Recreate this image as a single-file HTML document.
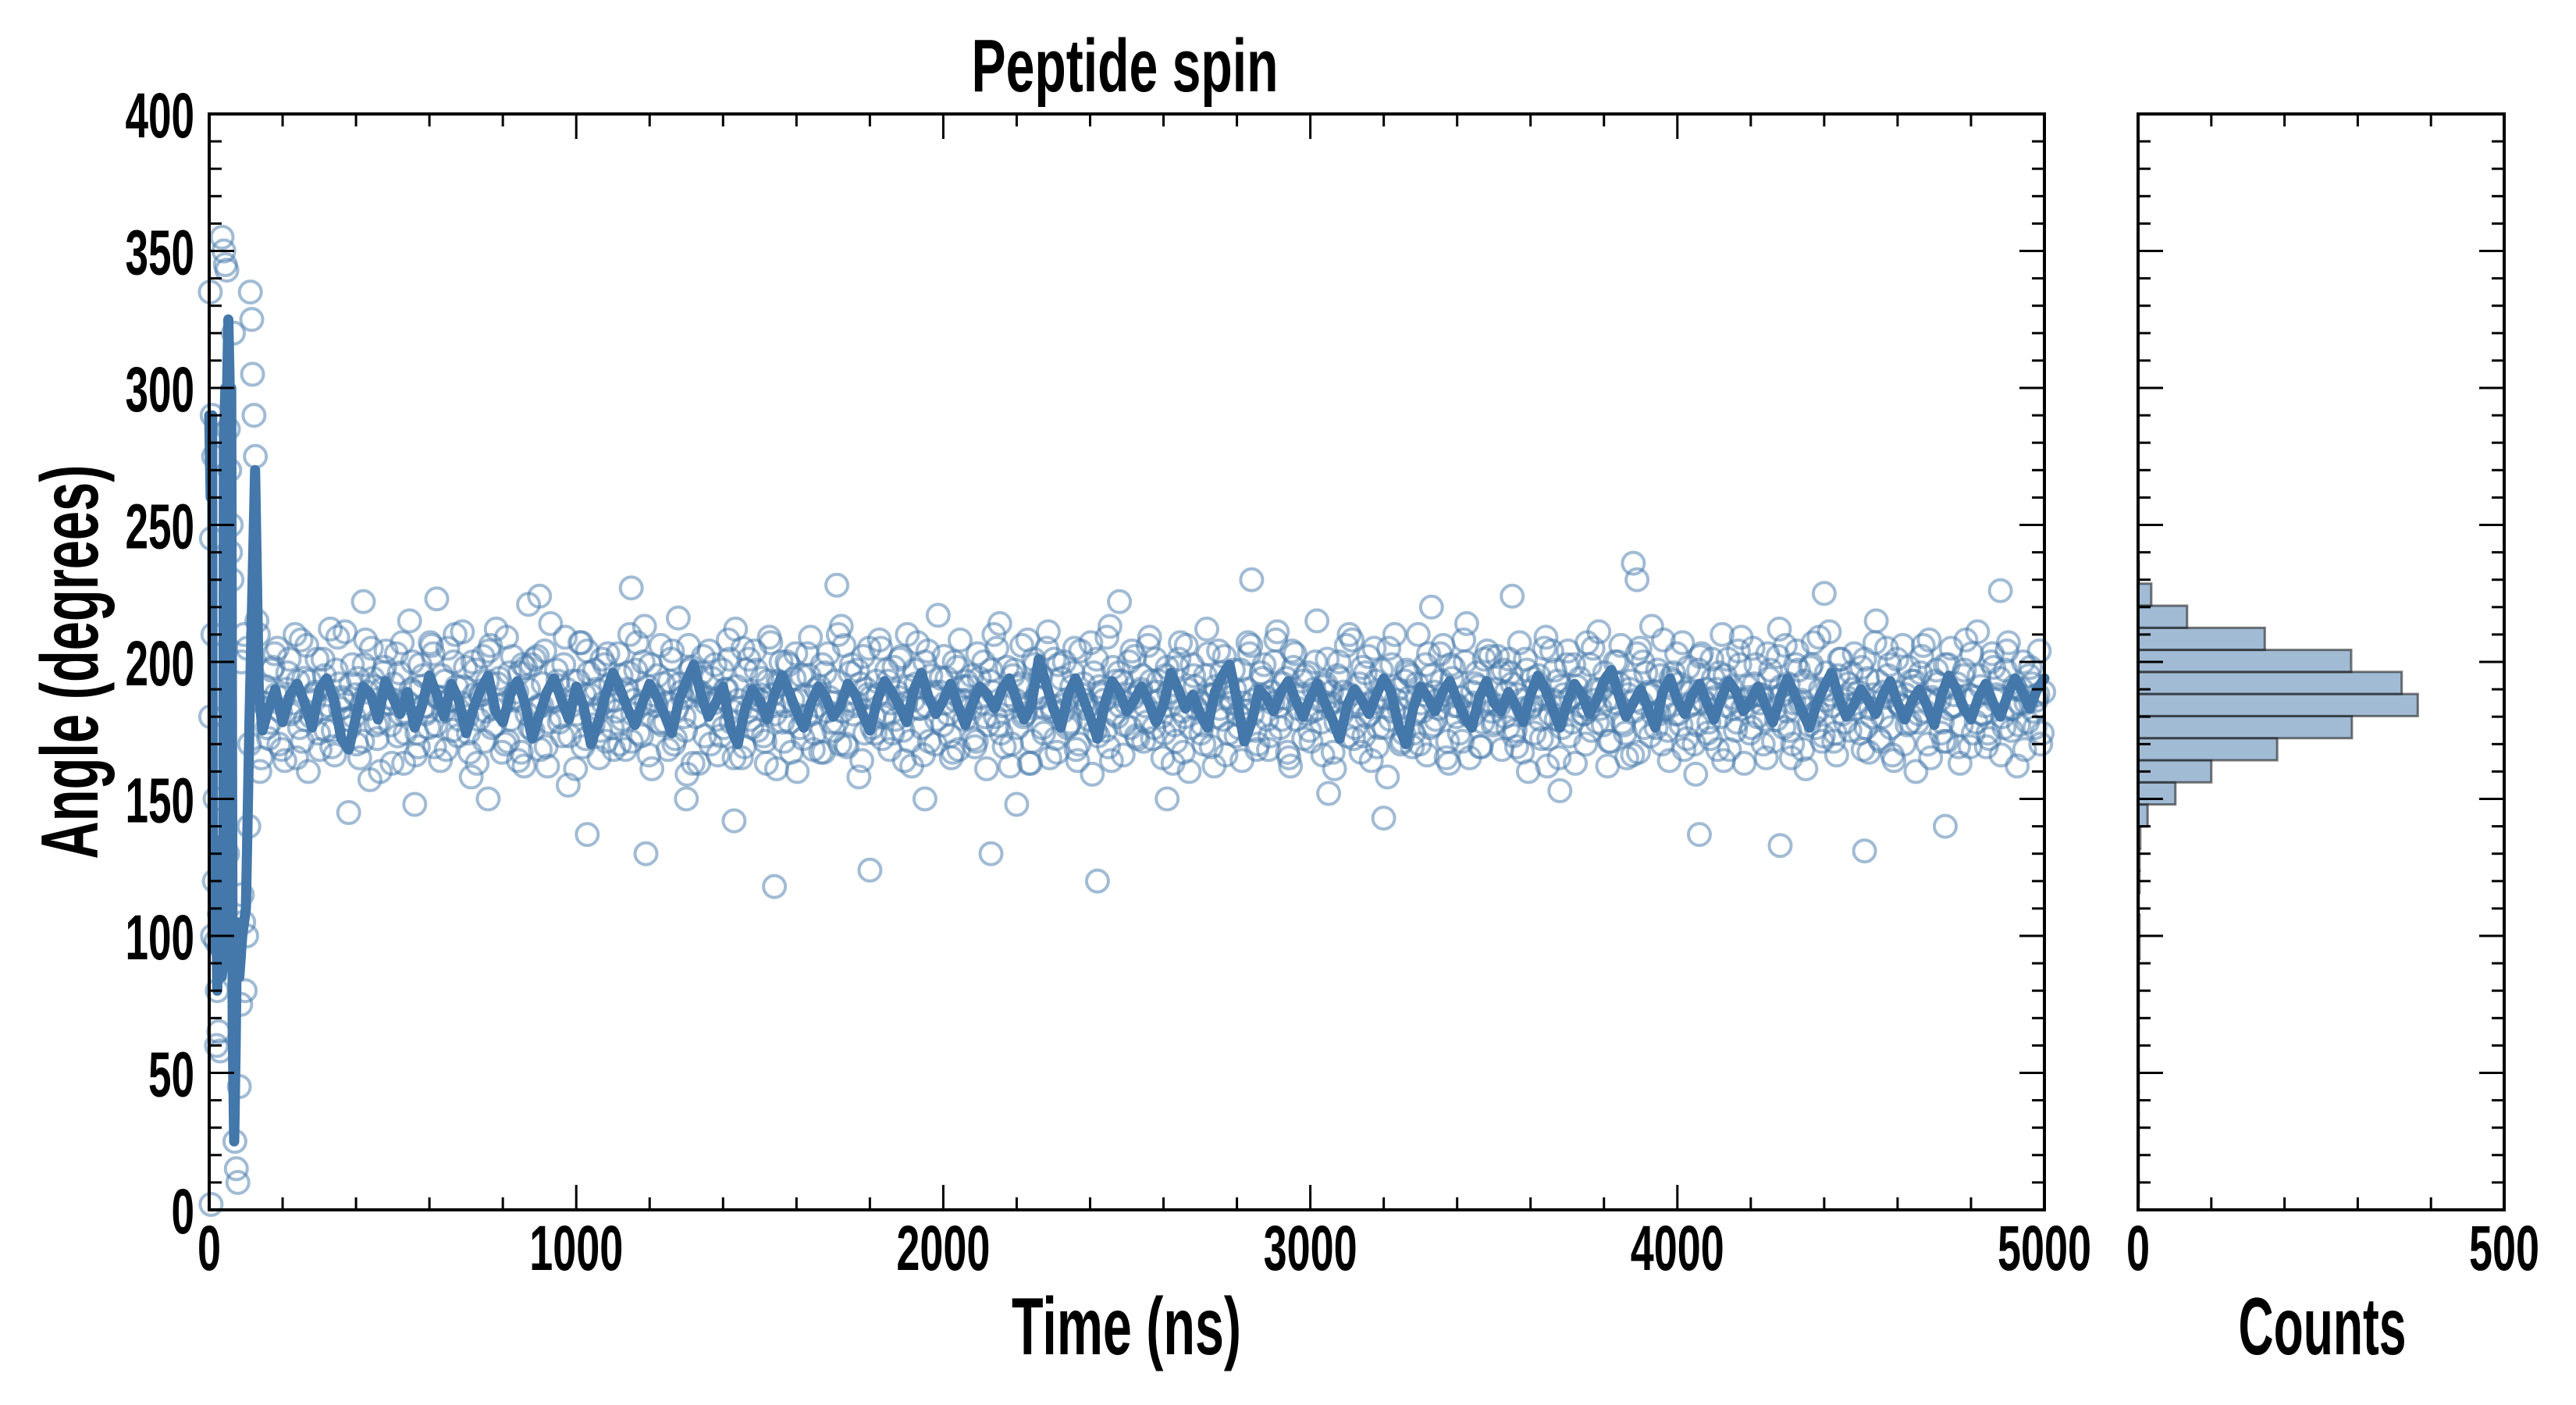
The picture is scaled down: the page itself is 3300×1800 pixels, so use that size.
<!DOCTYPE html>
<html><head><meta charset="utf-8"><style>
html,body{margin:0;padding:0;background:#fff;}
svg{display:block;}
text{font-family:"Liberation Sans Narrow","Liberation Sans",sans-serif;font-weight:bold;fill:#000;}
</style></head><body>
<svg id="chart" width="3300" height="1800" viewBox="0 0 3300 1800" xmlns="http://www.w3.org/2000/svg">
<rect width="3300" height="1800" fill="#fff"/>
<text x="1441" y="117" font-size="96" text-anchor="middle" textLength="393" lengthAdjust="spacingAndGlyphs">Peptide spin</text>
<text x="1443" y="1735" font-size="104" text-anchor="middle" textLength="294" lengthAdjust="spacingAndGlyphs">Time (ns)</text>
<text x="2975" y="1735" font-size="104" text-anchor="middle" textLength="215" lengthAdjust="spacingAndGlyphs">Counts</text>
<text x="0" y="0" font-size="104" text-anchor="middle" textLength="505" lengthAdjust="spacingAndGlyphs" transform="translate(125,848) rotate(-90)">Angle (degrees)</text>
<g id="scatter"></g>
<g id="line"></g>
<g id="hist"></g>
<g id="axes"></g>
</svg>
<script>
const earlyT = [5,3,8,12,6,10,4,14,18,22,26,9,16,30,35,40,44,48,52,56,58,62,66,70,74,78,82,86,90,94,98,102,108,112,116,118,122,126,130,134,138,142,146,60,20,28,36,50,42,88,96,104,110];
const earlyY = [2,335,290,275,245,210,180,120,98,80,65,100,150,58,355,350,345,343,285,270,240,230,320,25,15,10,45,75,115,105,80,100,140,335,325,305,290,275,215,210,160,165,185,250,60,108,95,130,112,200,210,205,170];
const bandStartT = 150;
const bandStepT = 12;
const bandY = [
185,172,198,205,168,190,181,210,176,194,160,188,201,183,175,212,166,192,186,179,
199,170,184,208,157,191,178,196,187,163,203,181,174,215,189,169,195,182,206,177,
164,193,186,200,173,211,180,158,197,188,171,204,183,192,167,209,179,186,196,162,
190,175,202,184,169,214,187,178,199,155,193,181,207,172,188,197,165,185,203,176,
182,195,168,210,186,174,200,191,161,184,206,178,193,170,216,187,159,198,180,189,
173,204,185,166,197,190,178,212,183,169,201,188,175,194,163,207,181,192,171,199,
186,160,195,180,209,174,191,167,203,185,178,213,170,196,184,158,202,188,176,193,
205,181,168,198,187,175,210,162,192,183,200,171,189,217,177,194,165,186,208,179,
191,172,203,185,161,197,180,214,169,188,195,176,206,183,163,199,187,174,211,182,
167,194,186,178,205,170,192,184,159,201,189,175,213,181,196,166,188,204,173,190,
184,209,176,193,165,198,187,171,207,180,160,195,186,177,212,169,191,183,202,174,
197,181,164,190,206,175,188,199,168,185,211,179,194,162,203,187,172,196,182,215,
178,192,185,161,200,189,173,208,184,167,196,181,205,176,190,158,199,186,170,193,
187,174,210,182,166,195,179,203,188,163,198,184,171,214,180,192,169,201,186,177,
202,168,189,196,175,207,183,160,194,186,172,209,181,197,165,188,204,178,191,184,
170,199,186,211,177,162,193,185,206,174,190,182,167,200,188,213,176,195,183,164,
196,181,207,172,189,159,202,185,178,194,168,210,184,191,175,199,163,187,205,180,
188,165,197,183,212,176,192,170,204,186,161,198,181,209,173,190,184,166,201,178,
175,203,189,168,194,180,215,171,187,199,164,185,206,177,193,160,196,182,208,186,
192,178,171,205,184,163,197,188,174,211,181,169,200,186,194,176,207,183,162,190,
185,198,176,204,189];
const band2StartT = 154;
const bandY2 = [
191,178,203,170,187,196,182,165,208,179,193,186,174,201,188,169,197,183,211,176,
180,194,171,189,205,177,160,198,185,192,173,207,181,190,166,199,184,176,203,187,
195,168,186,210,179,191,174,200,163,188,182,206,177,194,185,171,202,189,167,198,
176,201,184,192,162,187,197,180,209,173,186,193,169,204,181,190,175,199,186,168,
203,179,190,171,197,184,213,166,188,195,177,185,201,172,192,180,206,163,189,196,
185,170,199,187,176,208,182,191,165,197,179,204,186,173,193,188,161,200,184,178,
194,186,172,203,181,190,167,196,187,175,210,182,169,199,185,192,174,205,180,188,
172,197,185,179,201,164,191,186,207,176,184,195,170,189,202,181,167,198,186,193,
183,169,194,200,177,189,205,174,186,162,197,191,180,208,171,187,195,183,165,201,
199,182,176,191,168,204,186,179,196,173,188,209,164,193,184,177,200,187,172,195,
178,193,201,186,174,189,163,198,182,206,176,191,185,170,203,188,180,196,166,187,
190,176,185,207,181,168,196,187,173,200,184,192,167,204,179,188,195,175,190,183,
166,201,189,178,194,186,210,172,185,198,180,164,193,187,176,205,182,190,171,197,
195,181,170,188,203,177,186,193,165,199,184,174,208,181,189,196,169,185,202,178,
184,197,176,192,169,186,201,183,174,195,188,162,204,179,191,185,173,199,187,181,
207,175,190,183,196,171,187,200,178,165,193,186,205,176,189,181,197,170,184,194,
181,192,168,198,185,177,203,190,172,187,196,164,201,183,178,209,186,174,192,188,
170,203,187,179,191,206,175,185,197,168,183,199,176,190,186,211,171,195,181,187,
196,183,174,201,167,188,193,180,205,176,189,184,170,198,191,178,202,186,165,193,
186,171,199,184,192,177,208,169,187,195,181,174,203,188,166,197,183,191,177,200,
178,192,186,170,197];
const band3StartT = 158;
const bandY3 = [
176,197,188,182,164,201,185,193,171,206,180,189,168,195,184,175,209,187,179,192,
188,165,199,183,194,172,190,204,177,186,196,163,185,200,174,191,181,207,169,187,
182,205,175,191,185,198,167,188,179,202,193,176,212,184,170,196,187,164,199,181,
199,183,168,204,178,186,193,173,190,184,161,207,188,196,177,183,201,171,192,186,
170,189,196,181,207,173,185,199,186,178,192,168,204,183,189,175,197,190,163,202,
187,194,179,173,190,201,165,186,205,182,176,197,188,171,209,184,193,178,200,167,
203,176,188,195,168,184,199,182,178,193,170,206,186,181,197,164,190,187,174,208,
180,193,174,189,202,185,171,197,183,166,204,188,179,194,185,173,200,168,191,186,
195,171,187,180,193,210,177,184,198,170,186,192,181,163,201,189,176,205,184,172,
184,200,177,196,164,188,183,207,175,191,186,169,198,180,193,185,176,202,189,171,
206,172,189,180,195,184,177,201,167,190,199,183,174,195,188,162,204,179,191,185,
173,197,182,203,186,170,194,179,189,208,176,187,165,198,183,193,181,171,200,186,
191,184,167,195,181,206,188,176,192,173,202,185,169,197,187,179,210,183,174,196,
169,192,185,199,176,189,183,206,171,194,180,187,200,165,185,191,178,204,182,190,
196,180,201,173,188,167,197,184,191,179,205,172,186,193,176,199,187,163,194,181,
183,205,178,190,186,171,200,192,177,188,166,203,185,196,173,189,181,208,175,193,
203,177,189,184,170,197,186,174,201,190,180,195,168,187,204,183,191,176,199,185,
179,194,171,202,188,182,165,199,185,193,177,207,182,171,196,188,174,201,186,192,
190,185,198,176,183,207,172,189,195,166,201,184,188,178,193,181,206,170,187,197,
174,199,183,188,169,195,186,203,178,191,184,172,198,187,180,204,175,190,185,168,
195,182,188,174,201];
const outT = [380,420,560,620,760,870,1030,1150,1190,1300,1430,1540,1710,1800,2130,2200,2420,2480,2610,2840,3050,3330,3550,3680,3880,3890,4060,4280,4510,4730,4880,900,1950,3200,4400];
const outY = [145,222,148,223,150,221,137,227,130,150,142,118,228,124,130,148,120,222,150,230,152,220,224,153,236,230,137,133,131,140,226,224,150,143,225];
const lineEarlyT = [0,4,8,10,14,18,22,26,30,34,38,40,44,48,52,56,60,64,68,72,76,82,90,100,110,125,135,145];
const lineEarlyY = [290,260,290,120,95,130,80,110,135,85,90,280,300,295,325,300,300,65,25,60,105,85,100,110,180,270,190,175];
const lineStartT = 160;
const lineStepT = 20;
const lineY = [
182,190,178,188,192,185,176,190,194,186,172,168,180,191,188,179,193,187,181,189,
176,184,195,188,180,192,186,174,183,190,195,182,178,188,193,185,172,181,189,194,
186,179,191,184,170,178,188,196,190,183,177,185,192,187,181,174,186,193,199,188,
180,185,191,176,170,183,190,186,179,188,195,189,182,176,185,191,187,180,184,192,
188,181,175,186,193,189,184,178,190,196,187,181,186,192,184,177,185,191,188,183,
190,194,186,179,184,201,192,183,176,188,194,187,180,172,185,193,189,182,186,191,
185,178,184,196,190,183,188,181,176,189,195,199,186,171,178,190,187,182,189,193,
186,180,187,192,185,179,172,184,190,186,181,188,194,189,177,170,183,191,187,182,
189,193,186,180,176,187,193,185,182,189,184,178,188,195,190,183,176,185,192,188,
181,186,193,197,188,180,185,190,183,176,189,194,186,181,188,192,185,179,187,193,
189,182,186,191,184,178,187,194,188,182,176,185,191,196,187,180,184,190,186,181,
188,193,185,179,186,190,184,177,188,195,190,183,179,187,192,185,180,188,194,189,
183,190,194];
const binStart = 2.9;
const binWidth = 8.06;
const binCounts = [1,1,1,1,1,1,1,1,1,1,1,2,2,1,2,2,3,13,51,100,190,292,382,360,291,173,67,18,1];
const xTicks = [0,1000,2000,3000,4000,5000];
const yTicks = [0,50,100,150,200,250,300,350,400];
const histTicks = [0,500];

const NS='http://www.w3.org/2000/svg';
const X0=268, X1=2619, Y0=1550, Y1=146, H0=2739, H1=3208;
const xs = t => X0 + (t/5000)*(X1-X0);
const ys = a => Y0 - (a/400)*(Y0-Y1);
const hs = c => H0 + (c/500)*(H1-H0);
function mk(tag, attrs, parent){const e=document.createElementNS(NS,tag);for(const k in attrs)e.setAttribute(k,attrs[k]);parent.appendChild(e);return e;}

const sc=document.getElementById('scatter');
function dot(t,a){
  if(t>5000) return;
  const c=mk('circle',{cx:xs(t).toFixed(1),cy:ys(a).toFixed(1),r:14,fill:'none',stroke:'#4477aa','stroke-width':4,'stroke-opacity':0.5},sc);
  
  
}
earlyT.forEach((t,i)=>dot(t,earlyY[i]));
bandY.forEach((a,i)=>dot(bandStartT+i*bandStepT,a));
bandY2.forEach((a,i)=>dot(band2StartT+i*bandStepT,a));
bandY3.forEach((a,i)=>dot(band3StartT+i*bandStepT,a));
outT.forEach((t,i)=>dot(t,outY[i]));

const pts=[];
lineEarlyT.forEach((t,i)=>pts.push([t,lineEarlyY[i]]));
lineY.forEach((a,i)=>pts.push([Math.min(5000,lineStartT+i*lineStepT),a]));
const ln=mk('polyline',{points:pts.map(p=>xs(p[0]).toFixed(1)+','+ys(p[1]).toFixed(1)).join(' '),fill:'none',stroke:'#4477aa','stroke-width':13,'stroke-linejoin':'round','stroke-linecap':'round'},document.getElementById('line'));



const hg=document.getElementById('hist');
binCounts.forEach((c,i)=>{
  const lo=binStart+i*binWidth, hi=lo+binWidth;
  const r=mk('rect',{x:H0,y:ys(hi).toFixed(1),width:(hs(c)-H0).toFixed(1),height:(ys(lo)-ys(hi)).toFixed(1),fill:'#4477aa','fill-opacity':0.5,stroke:'#222','stroke-opacity':0.6,'stroke-width':3},hg);
  
  
});

const ax=document.getElementById('axes');
function line(x1,y1,x2,y2,w,name){const l=mk('line',{x1:x1,y1:y1,x2:x2,y2:y2,stroke:'#000','stroke-width':w},ax);}
function label(x,y,s,anchor,name,w){const t=mk('text',{x:x,y:y,'font-size':82,'text-anchor':anchor,textLength:w,lengthAdjust:'spacingAndGlyphs'},ax);t.textContent=s;}
mk('rect',{x:X0,y:Y1,width:X1-X0,height:Y0-Y1,fill:'none',stroke:'#000','stroke-width':4},ax);
mk('rect',{x:H0,y:Y1,width:H1-H0,height:Y0-Y1,fill:'none',stroke:'#000','stroke-width':4},ax);
for(let t=0;t<=5000;t+=200){const x=xs(t);const L=(t%1000===0)?32:16;line(x,Y0,x,Y0-L,3,'x-tick');line(x,Y1,x,Y1+L,3,'x-tick-top');}
for(let a=0;a<=400;a+=10){const y=ys(a);const L=(a%50===0)?32:16;
  line(X0,y,X0+L,y,3,'y-tick');line(X1,y,X1-L,y,3,'y-tick-right');
  line(H0,y,H0+L,y,3,'hist-y-tick');line(H1,y,H1-L,y,3,'hist-y-tick-right');}
for(let c=0;c<=500;c+=100){const x=hs(c);line(x,Y0,x,Y0-16,3,'hist-x-tick');line(x,Y1,x,Y1+16,3,'hist-x-tick-top');}
xTicks.forEach(t=>label(xs(t),1627,String(t),'middle','x-tick-label',String(t).length*30));
yTicks.forEach(a=>label(249,ys(a)+30,String(a),'end','y-tick-label',String(a).length*29.5));
histTicks.forEach(c=>label(hs(c),1627,String(c),'middle','hist-x-tick-label',String(c).length*30));
</script>
</body></html>
